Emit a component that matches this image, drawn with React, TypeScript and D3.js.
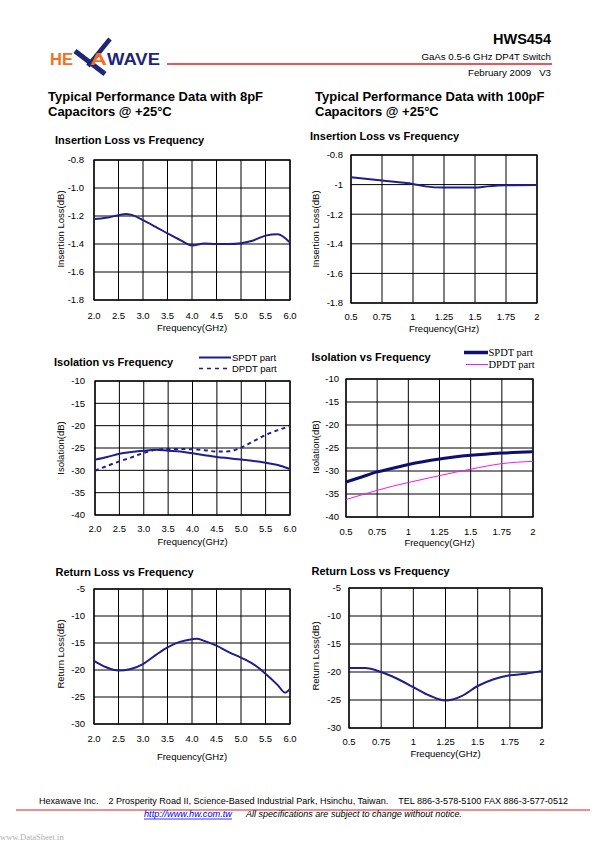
import React from "react";
import * as d3 from "d3";

// ---------- DATA ----------
// 8pF, Insertion loss
const il8Freq = [2.0, 2.25, 2.5, 2.65, 2.75, 3.0, 3.25, 3.5, 3.75, 4.0, 4.25, 4.5, 4.75, 5.0, 5.25, 5.5, 5.75, 6.0];
const il8Loss = [-1.222, -1.213, -1.194, -1.185, -1.19, -1.23, -1.276, -1.324, -1.37, -1.41, -1.397, -1.4, -1.4, -1.394, -1.375, -1.34, -1.33, -1.39];
// 100pF, Insertion loss
const il100Freq = [0.5, 0.75, 1.0, 1.1, 1.25, 1.5, 1.6, 1.75, 2.0];
const il100Loss = [-0.951, -0.973, -0.996, -1.012, -1.02, -1.02, -1.012, -1.005, -1.003];
// 8pF, Isolation
const iso8Freq = [2.0, 2.25, 2.5, 2.75, 3.0, 3.25, 3.5, 3.75, 4.0, 4.25, 4.5, 4.75, 5.0, 5.25, 5.5, 5.75, 6.0];
const iso8Spdt = [-27.6, -27.0, -26.3, -25.9, -25.6, -25.4, -25.6, -25.8, -26.2, -26.6, -27.0, -27.3, -27.6, -27.9, -28.3, -28.8, -29.7];
const iso8Dpdt = [-30.1, -29.0, -28.0, -27.1, -26.1, -25.4, -25.2, -25.2, -25.3, -25.5, -25.8, -25.75, -24.9, -23.5, -22.1, -21.0, -20.1];
// 100pF, Isolation
const iso100Freq = [0.5, 0.625, 0.75, 0.875, 1.0, 1.25, 1.5, 1.75, 2.0];
const iso100Spdt = [-32.4, -31.3, -30.2, -29.4, -28.6, -27.4, -26.6, -26.1, -25.8];
const iso100Dpdt = [-36.2, -35.2, -34.2, -33.3, -32.5, -31.0, -29.6, -28.4, -27.9];
// 8pF, Return loss
const rl8Freq = [2.0, 2.25, 2.5, 2.75, 3.0, 3.25, 3.5, 3.75, 4.0, 4.1, 4.25, 4.5, 4.75, 5.0, 5.25, 5.5, 5.75, 5.9, 6.0];
const rl8Loss = [-18.3, -19.5, -20.1, -19.8, -18.9, -17.3, -15.8, -14.8, -14.3, -14.2, -14.6, -15.5, -16.7, -17.7, -18.9, -20.7, -22.8, -24.2, -23.5];
// 100pF, Return loss
const rl100Freq = [0.5, 0.625, 0.75, 0.875, 1.0, 1.125, 1.25, 1.375, 1.5, 1.625, 1.75, 1.875, 2.0];
const rl100Loss = [-19.3, -19.3, -20.0, -21.2, -22.7, -24.2, -25.1, -24.3, -22.5, -21.3, -20.6, -20.3, -19.8];

// tick values
const xTicks8 = [2.0, 2.5, 3.0, 3.5, 4.0, 4.5, 5.0, 5.5, 6.0];
const xTicks100 = [0.5, 0.75, 1, 1.25, 1.5, 1.75, 2];
const yTicksIL = [-0.8, -1.0, -1.2, -1.4, -1.6, -1.8];
const yTicksIso = [-10, -15, -20, -25, -30, -35, -40];
const yTicksRL = [-5, -10, -15, -20, -25, -30];

// ---------- STYLE ----------
const SANS = "'Liberation Sans', Arial, Helvetica, sans-serif";
const SERIF = "'Liberation Serif', 'Times New Roman', serif";
const NAVY = "#1f1f8c";
const DARKNAVY = "#0f0f6e";
const MAGENTA = "#f01cf0";
const RED = "#e0201f";
const ORANGE = "#f36f21";
const LOGO_NAVY = "#1d2677";

type Series = { x: number[]; y: number[]; color: string; width: number; dash?: string };
type Cfg = {
  l: number; r: number; t: number; b: number;
  xDomain: [number, number]; yDomain: [number, number];
  xTicks: number[]; yTicks: number[];
  xFmt: (v: number) => string; yFmt: (v: number) => string;
  yLabelRight: number; xTickY: number; xLabelY: number;
  title: string; titleX: number; titleY: number;
  yLabel: string; yLabelX: number; yLabelY: number;
  series: Series[];
};

function Chart({ c }: { c: Cfg }) {
  const x = d3.scaleLinear().domain(c.xDomain).range([c.l, c.r]);
  const y = d3.scaleLinear().domain(c.yDomain).range([c.b, c.t]);
  return (
    <g>
      <text x={c.titleX} y={c.titleY} fontFamily={SANS} fontWeight="bold" fontSize={11}>{c.title}</text>
      {c.xTicks.map((v, i) => (
        <line key={"vx" + i} x1={x(v)} x2={x(v)} y1={c.t} y2={c.b} stroke="#000" strokeWidth={1} />
      ))}
      {c.yTicks.map((v, i) => (
        <line key={"hy" + i} x1={c.l} x2={c.r} y1={y(v)} y2={y(v)} stroke="#000" strokeWidth={1} />
      ))}
      <rect x={c.l} y={c.t} width={c.r - c.l} height={c.b - c.t} fill="none" stroke="#000" strokeWidth={1.3} />
      {c.series.map((s, i) => {
        const pts = s.x.map((xv, j) => [xv, s.y[j]] as [number, number]);
        const path = d3.line<[number, number]>().x(d => x(d[0])).y(d => y(d[1])).curve(d3.curveMonotoneX)(pts) || "";
        return <path key={"s" + i} d={path} fill="none" stroke={s.color} strokeWidth={s.width} strokeDasharray={s.dash} />;
      })}
      {c.yTicks.map((v, i) => (
        <text key={"yt" + i} x={c.yLabelRight} y={y(v) + 3.4} textAnchor="end" fontFamily={SANS} fontSize={9.5}>{c.yFmt(v)}</text>
      ))}
      {c.xTicks.map((v, i) => (
        <text key={"xt" + i} x={x(v)} y={c.xTickY} textAnchor="middle" fontFamily={SANS} fontSize={9.5}>{c.xFmt(v)}</text>
      ))}
      <text x={(c.l + c.r) / 2} y={c.xLabelY} textAnchor="middle" fontFamily={SANS} fontSize={9.5}>Frequency(GHz)</text>
      <text transform={`translate(${c.yLabelX},${c.yLabelY}) rotate(-90)`} textAnchor="middle" fontFamily={SANS} fontSize={9.5}>{c.yLabel}</text>
    </g>
  );
}

const f1 = (v: number) => v.toFixed(1);
const fs = (v: number) => String(+v.toFixed(2));

const charts: Cfg[] = [
  {
    l: 94, r: 290, t: 160, b: 300, xDomain: [2, 6], yDomain: [-1.8, -0.8],
    xTicks: xTicks8, yTicks: yTicksIL, xFmt: f1, yFmt: f1,
    yLabelRight: 84, xTickY: 319, xLabelY: 331,
    title: "Insertion Loss vs Frequency", titleX: 55, titleY: 144,
    yLabel: "Insertion Loss(dB)", yLabelX: 63.5, yLabelY: 229,
    series: [{ x: il8Freq, y: il8Loss, color: NAVY, width: 2 }],
  },
  {
    l: 351, r: 537, t: 155, b: 303, xDomain: [0.5, 2], yDomain: [-1.8, -0.8],
    xTicks: xTicks100, yTicks: yTicksIL, xFmt: fs, yFmt: fs,
    yLabelRight: 343, xTickY: 319.5, xLabelY: 331.5,
    title: "Insertion Loss vs Frequency", titleX: 310, titleY: 140,
    yLabel: "Insertion Loss(dB)", yLabelX: 318.5, yLabelY: 229,
    series: [{ x: il100Freq, y: il100Loss, color: NAVY, width: 2 }],
  },
  {
    l: 95, r: 290, t: 381, b: 515, xDomain: [2, 6], yDomain: [-40, -10],
    xTicks: xTicks8, yTicks: yTicksIso, xFmt: f1, yFmt: fs,
    yLabelRight: 85, xTickY: 531.5, xLabelY: 545,
    title: "Isolation vs Frequency", titleX: 54, titleY: 365.5,
    yLabel: "Isolation(dB)", yLabelX: 63.5, yLabelY: 448,
    series: [
      { x: iso8Freq, y: iso8Spdt, color: NAVY, width: 2 },
      { x: iso8Freq, y: iso8Dpdt, color: NAVY, width: 2, dash: "4,3.5" },
    ],
  },
  {
    l: 346, r: 533, t: 379, b: 517, xDomain: [0.5, 2], yDomain: [-40, -10],
    xTicks: xTicks100, yTicks: yTicksIso, xFmt: fs, yFmt: fs,
    yLabelRight: 339, xTickY: 534.5, xLabelY: 546,
    title: "Isolation vs Frequency", titleX: 311.5, titleY: 361,
    yLabel: "Isolation(dB)", yLabelX: 318.5, yLabelY: 447,
    series: [
      { x: iso100Freq, y: iso100Spdt, color: DARKNAVY, width: 3 },
      { x: iso100Freq, y: iso100Dpdt, color: MAGENTA, width: 1 },
    ],
  },
  {
    l: 94, r: 290, t: 589, b: 724, xDomain: [2, 6], yDomain: [-30, -5],
    xTicks: xTicks8, yTicks: yTicksRL, xFmt: f1, yFmt: fs,
    yLabelRight: 85, xTickY: 741.5, xLabelY: 760,
    title: "Return Loss vs Frequency", titleX: 55.5, titleY: 575.5,
    yLabel: "Return Loss(dB)", yLabelX: 63.5, yLabelY: 654,
    series: [{ x: rl8Freq, y: rl8Loss, color: NAVY, width: 2 }],
  },
  {
    l: 349, r: 542, t: 588, b: 728, xDomain: [0.5, 2], yDomain: [-30, -5],
    xTicks: xTicks100, yTicks: yTicksRL, xFmt: fs, yFmt: fs,
    yLabelRight: 341, xTickY: 745, xLabelY: 757,
    title: "Return Loss vs Frequency", titleX: 311.5, titleY: 574.5,
    yLabel: "Return Loss(dB)", yLabelX: 318.5, yLabelY: 656,
    series: [{ x: rl100Freq, y: rl100Loss, color: NAVY, width: 2 }],
  },
];

export default function App() {
  return (
    <svg width={595} height={842} viewBox="0 0 595 842"
      style={{ position: "absolute", left: 0, top: 0, background: "#fff" }}>
      <rect x={0} y={0} width={595} height={842} fill="#fff" />
      {/* Logo */}
      <text x={50} y={64.5} fontFamily={SANS} fontWeight="bold" fontSize={17} fill={ORANGE} textLength={23} lengthAdjust="spacingAndGlyphs">HE</text>
      <line x1={75} y1={51} x2={105} y2={74} stroke={LOGO_NAVY} strokeWidth={5} />
      <line x1={110} y1={39} x2={88} y2={66} stroke={LOGO_NAVY} strokeWidth={4.5} />
      <text x={90} y={64.5} fontFamily={SANS} fontWeight="bold" fontSize={17} fill={ORANGE} textLength={17} lengthAdjust="spacingAndGlyphs">A</text>
      <text x={107} y={64.5} fontFamily={SANS} fontWeight="bold" fontSize={17} fill={LOGO_NAVY} textLength={53} lengthAdjust="spacingAndGlyphs">WAVE</text>
      <line x1={167} y1={64} x2={552} y2={64} stroke={RED} strokeWidth={1.5} />
      <text x={551} y={44} textAnchor="end" fontFamily={SANS} fontWeight="bold" fontSize={14.5}>HWS454</text>
      <text x={551} y={59.5} textAnchor="end" fontFamily={SANS} fontSize={9.7}>GaAs 0.5-6 GHz DP4T Switch</text>
      <text x={551} y={75.5} textAnchor="end" fontFamily={SANS} fontSize={9.7} style={{ whiteSpace: "pre" }}>{"February 2009   V3"}</text>

      {/* Section headings */}
      <text x={48} y={101} fontFamily={SANS} fontWeight="bold" fontSize={13}>Typical Performance Data with 8pF</text>
      <text x={48} y={116} fontFamily={SANS} fontWeight="bold" fontSize={13}>Capacitors @ +25°C</text>
      <text x={315} y={101} fontFamily={SANS} fontWeight="bold" fontSize={13}>Typical Performance Data with 100pF</text>
      <text x={315} y={116} fontFamily={SANS} fontWeight="bold" fontSize={13}>Capacitors @ +25°C</text>

      {charts.map((c, i) => <Chart key={i} c={c} />)}

      {/* Legend chart 3 */}
      <line x1={199} x2={231} y1={357.5} y2={357.5} stroke={NAVY} strokeWidth={2} />
      <text x={232} y={361} fontFamily={SANS} fontSize={9.5}>SPDT part</text>
      <line x1={199} x2={231} y1={368.5} y2={368.5} stroke={NAVY} strokeWidth={1.5} strokeDasharray="4,4" />
      <text x={232} y={372} fontFamily={SANS} fontSize={9.5}>DPDT part</text>

      {/* Legend chart 4 */}
      <line x1={464} x2={488} y1={352.5} y2={352.5} stroke={DARKNAVY} strokeWidth={3.5} />
      <text x={488.5} y={356} fontFamily={SERIF} fontSize={10.5}>SPDT part</text>
      <line x1={466} x2={488} y1={364.5} y2={364.5} stroke={MAGENTA} strokeWidth={1} />
      <text x={488.5} y={368} fontFamily={SERIF} fontSize={10.5}>DPDT part</text>

      {/* Footer */}
      <text x={39} y={803.5} fontFamily={SANS} fontSize={9} textLength={529} lengthAdjust="spacingAndGlyphs" style={{ whiteSpace: "pre" }}>
        {"Hexawave Inc.    2 Prosperity Road II, Science-Based Industrial Park, Hsinchu, Taiwan.    TEL 886-3-578-5100 FAX 886-3-577-0512"}
      </text>
      <line x1={16} x2={590} y1={810} y2={810} stroke={RED} strokeWidth={1.2} />
      <text x={144} y={817} fontFamily={SANS} fontStyle="italic" fontSize={9} fill="#0000ee" textLength={88} lengthAdjust="spacingAndGlyphs">http://www.hw.com.tw</text>
      <line x1={144} x2={232} y1={819} y2={819} stroke="#0000ee" strokeWidth={0.8} />
      <text x={246} y={817} fontFamily={SANS} fontStyle="italic" fontSize={9} textLength={216} lengthAdjust="spacingAndGlyphs">All specifications are subject to change without notice.</text>
      <text x={0} y={840} fontFamily={SERIF} fontSize={8.5} fill="#b0b0b0">www.DataSheet.in</text>
    </svg>
  );
}
